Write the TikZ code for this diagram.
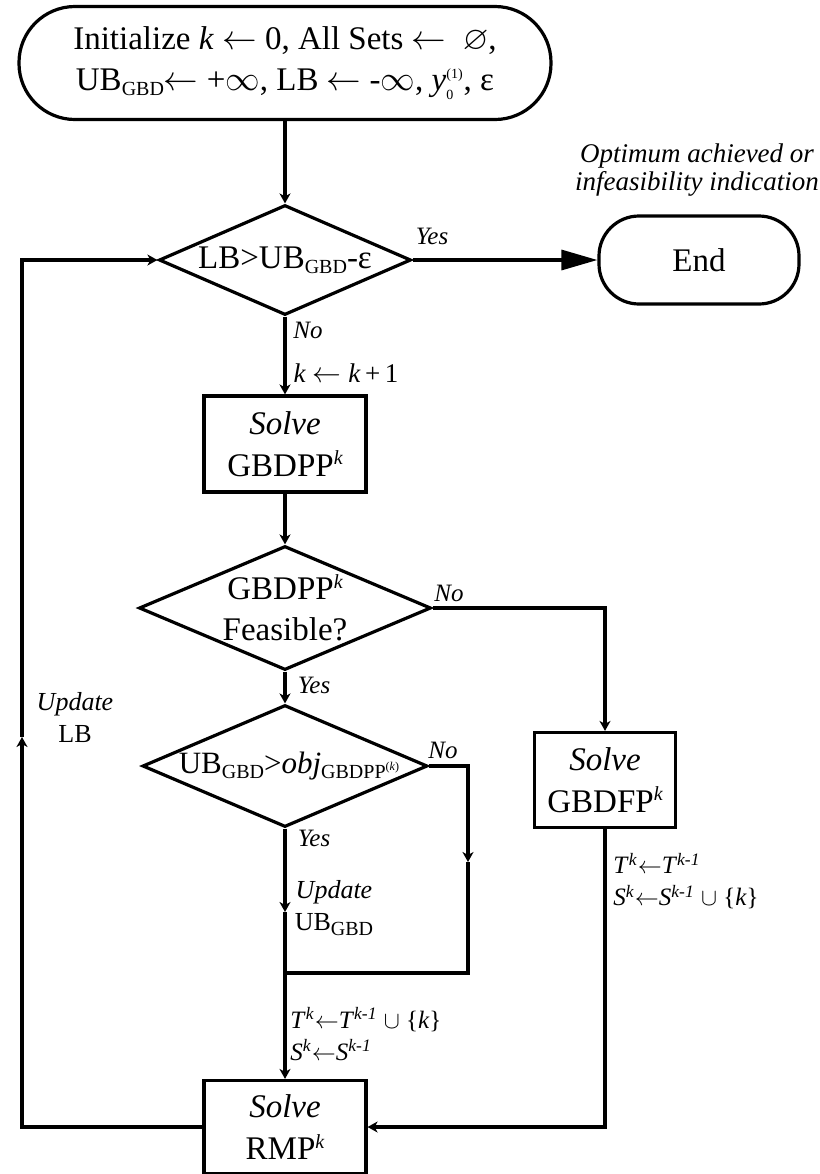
\documentclass[tikz,border=0pt]{standalone}
\usepackage{amssymb}
\usepackage{fontspec}
\setmainfont{Liberation Serif}
\usepackage{tikz}
\usetikzlibrary{arrows.meta,shapes.geometric}

\newcommand{\lowtxt}[1]{\raisebox{-0.35ex}{\fontsize{10}{10}\selectfont #1}}
\newcommand{\kup}{\raisebox{0.75ex}{\fontsize{10}{10}\selectfont\itshape k}}

\tikzset{
  term/.style={draw, line width=1.6pt, align=center, inner sep=2pt,
    font=\fontsize{16.5}{20.5}\selectfont},
  proc/.style={draw, line width=1.6pt, align=center, inner sep=2pt,
    font=\fontsize{16.5}{21}\selectfont},
  cond/.style={draw, diamond, line width=1.6pt, inner sep=0pt},
  condtext/.style={align=center, inner sep=0pt, font=\fontsize{16.5}{20.5}\selectfont},
  arr/.style={-{Stealth[length=5pt,width=5.5pt,inset=1.5pt]}, line width=1.6pt},
  link/.style={line width=1.6pt},
  yn/.style={font=\fontsize{12.5}{14}\selectfont\itshape, inner sep=0pt},
  upd/.style={font=\fontsize{13}{16}\selectfont, align=center, inner sep=0pt},
  asg/.style={font=\fontsize{12.5}{16}\selectfont, align=left, inner sep=0pt, anchor=west},
  note/.style={font=\fontsize{13.5}{14}\selectfont\itshape, align=center, inner sep=0pt}
}

\begin{document}
\begin{tikzpicture}[x=0.5pt, y=-0.5pt]
\useasboundingbox (0,0) rectangle (820,1174);

% terminals
\node[term, rounded corners=28pt, minimum width=266pt, minimum height=56.5pt] (init) at (285,63)
  {Initialize \textit{k} $\leftarrow$ 0, All Sets $\leftarrow$\ \ $\varnothing$,\\
   UB\lowtxt{GBD}$\leftarrow$ +$\infty$, LB $\leftarrow$ -$\infty$,
   $\mbox{\textit{y}}_{\mbox{\fontsize{7}{7}\selectfont 0}}^{\mbox{\fontsize{7}{7}\selectfont (1)}}$, ε};
\node[term, rounded corners=20pt, minimum width=100pt, minimum height=44pt] (fin) at (699,260) {End};
\node[note] (optnote) at (697,170) {Optimum achieved or\\infeasibility indication};

% decisions
\node[cond, minimum width=126pt, minimum height=55pt,
  label={[condtext]center:LB>UB\lowtxt{GBD}-ε}] (stop) at (285,260) {};
\node[cond, minimum width=146pt, minimum height=62pt,
  label={[condtext]center:GBDPP\kup\\Feasible?}] (feas) at (285,608) {};
\node[cond, minimum width=142.5pt, minimum height=61pt,
  label={[condtext, font=\fontsize{15.5}{19}\selectfont, xshift=2pt]center:UB\lowtxt{GBD}>\textit{obj}\lowtxt{GBDPP\raisebox{0.9ex}{\fontsize{6}{6}\selectfont(\textit{k})}}}] (ubchk) at (285,766) {};

% processes
\node[proc, minimum width=81pt, minimum height=48pt] (solvepp) at (285,444) {\textit{Solve}\\GBDPP\kup};
\node[proc, minimum width=70.5pt, minimum height=47.5pt] (solvefp) at (605,780) {\textit{Solve}\\GBDFP\kup};
\node[proc, minimum width=81pt, minimum height=46.5pt] (rmp) at (285,1127) {\textit{Solve}\\RMP\kup};

% bends
\coordinate (lb) at (22,737);
\coordinate (ub) at (285,912);
\coordinate (nob) at (468,862);
\coordinate (mrg) at (285,973);

\draw[arr] (init) -- (stop);
\draw[link, -{Triangle[length=18pt,width=10pt]}] (stop.east) -- (fin);
\draw[arr] (stop.south) -- (solvepp);
\draw[arr] (solvepp) -- (feas);
\draw[arr] (feas.east) -| (solvefp);
\draw[arr] (feas.south) -- (ubchk);
\draw[arr] (ubchk.east) -| (nob);
\draw[link] (nob) |- (mrg);
\draw[arr] (ubchk.south) -- (ub);
\draw[arr] (ub) -- (rmp);
\draw[arr] (solvefp) |- (rmp);
\draw[arr] (rmp) -| (lb);
\draw[arr] (lb) |- (stop.west);

% branch labels
\node[yn] (yes1) at (432,236) {Yes};
\node[yn] (no1) at (308,330) {No};
\node[font=\fontsize{13.5}{16}\selectfont, inner sep=0pt] (inc) at (346,373)
  {\textit{k} $\leftarrow$ \textit{k}\,+\,1};
\node[yn] (no2) at (449,593) {No};
\node[yn] (yes2) at (314,685) {Yes};
\node[yn] (no3) at (443,750) {No};
\node[yn] (yes3) at (314,838) {Yes};
\node[upd] (updub) at (334,908) {\textit{Update}\\UB\lowtxt{GBD}};
\node[upd] (updlb) at (75,718) {\textit{Update}\\LB};
\node[asg] (asgfb) at (290,1034)
  {\textit{T}\textsuperscript{\textit{k}}$\leftarrow$\textit{T}\textsuperscript{\textit{k-1}} $\cup$ \{\textit{k}\}\\
   \textit{S}\textsuperscript{\textit{k}}$\leftarrow$\textit{S}\textsuperscript{\textit{k-1}}};
\node[asg] (asgfs) at (613,881)
  {\textit{T}\textsuperscript{\textit{k}}$\leftarrow$\textit{T}\textsuperscript{\textit{k-1}}\\
   \textit{S}\textsuperscript{\textit{k}}$\leftarrow$\textit{S}\textsuperscript{\textit{k-1}} $\cup$ \{\textit{k}\}};
\end{tikzpicture}
\end{document}
